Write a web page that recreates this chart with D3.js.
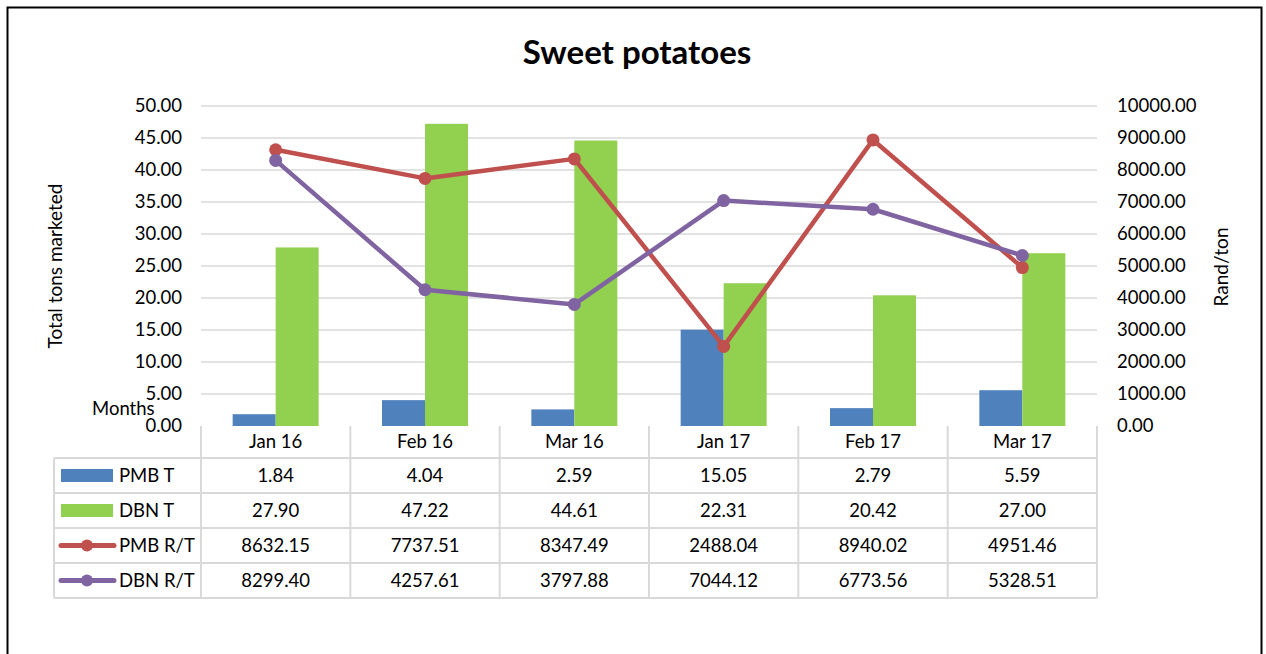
<!DOCTYPE html>
<html><head><meta charset="utf-8">
<script src="https://cdn.jsdelivr.net/npm/d3@7"></script>
<style>html,body{margin:0;padding:0;background:#fff;}svg{display:block;font-family:Lato,"Open Sans",sans-serif;}</style>
</head><body>
<svg id="chart" width="1266" height="654"></svg>
<script>
const categories = ["Jan 16","Feb 16","Mar 16","Jan 17","Feb 17","Mar 17"];
const pmbT = [1.84,4.04,2.59,15.05,2.79,5.59];
const dbnT = [27.90,47.22,44.61,22.31,20.42,27.00];
const pmbRT = [8632.15,7737.51,8347.49,2488.04,8940.02,4951.46];
const dbnRT = [8299.40,4257.61,3797.88,7044.12,6773.56,5328.51];
const leftTicks = [0,5,10,15,20,25,30,35,40,45,50];
const rightTicks = [0,1000,2000,3000,4000,5000,6000,7000,8000,9000,10000];
const title = "Sweet potatoes";

const seriesBars = [
  {name:"PMB T", values:pmbT, color:"#4f81bd"},
  {name:"DBN T", values:dbnT, color:"#92d050"}
];
const seriesLines = [
  {name:"PMB R/T", values:pmbRT, color:"#c0504d"},
  {name:"DBN R/T", values:dbnRT, color:"#8064a2"}
];

const svg = d3.select("#chart");
const X0 = 201, X1 = 1097, YT = 106, YB = 426;
const fs = 18.5;
const fa = 19;

svg.append("rect").attr("x",7.5).attr("y",7.5).attr("width",1254).attr("height",700)
  .attr("fill","none").attr("stroke","#000").attr("stroke-width",2);

svg.append("text").attr("x",637).attr("y",64).attr("text-anchor","middle")
  .attr("font-size",33).attr("font-weight","bold").attr("fill","#000").text(title);

const x = d3.scaleBand().domain(categories).range([X0,X1]).paddingInner(0).paddingOuter(0);
const yL = d3.scaleLinear().domain([0,50]).range([YB,YT]);
const yR = d3.scaleLinear().domain([0,10000]).range([YB,YT]);

// gridlines
svg.append("g").selectAll("line").data(leftTicks.filter(d=>d>0)).join("line")
  .attr("x1",X0).attr("x2",X1).attr("y1",d=>yL(d)).attr("y2",d=>yL(d))
  .attr("stroke","#d9d9d9").attr("stroke-width",1.5);

// left axis
const gl = svg.append("g").attr("transform",`translate(${X0},0)`)
  .call(d3.axisLeft(yL).tickValues(leftTicks).tickFormat(d3.format(".2f")).tickSize(0).tickPadding(19));
gl.select(".domain").remove();
gl.selectAll("text").attr("font-size",fs).attr("fill","#000").attr("font-family","Lato, sans-serif");

// right axis
const gr = svg.append("g").attr("transform",`translate(${X1},0)`)
  .call(d3.axisRight(yR).tickValues(rightTicks).tickFormat(d3.format(".2f")).tickSize(0).tickPadding(20));
gr.select(".domain").remove();
gr.selectAll("text").attr("font-size",fs).attr("fill","#000").attr("font-family","Lato, sans-serif");

// axis titles
svg.append("text").attr("transform","translate(62,266) rotate(-90)").attr("text-anchor","middle")
  .attr("font-size",fa).attr("fill","#000").text("Total tons marketed");
svg.append("text").attr("transform","translate(1228,267) rotate(-90)").attr("text-anchor","middle")
  .attr("font-size",fa).attr("fill","#000").text("Rand/ton");
svg.append("text").attr("x",92).attr("y",415).attr("font-size",fs).attr("fill","#000").text("Months");

// bars
const bw = 43;
seriesBars.forEach((s,si)=>{
  svg.append("g").selectAll("rect").data(s.values).join("rect")
    .attr("x",(d,i)=>x(categories[i])+x.bandwidth()/2 - bw + si*bw)
    .attr("width",bw)
    .attr("y",d=>yL(d)).attr("height",d=>YB-yL(d))
    .attr("fill",s.color);
});

// lines
const cx = i => x(categories[i])+x.bandwidth()/2;
seriesLines.forEach(s=>{
  const line = d3.line().x((d,i)=>cx(i)).y(d=>yR(d));
  svg.append("path").datum(s.values).attr("d",line).attr("fill","none")
    .attr("stroke",s.color).attr("stroke-width",4.5).attr("stroke-linejoin","round");
  svg.append("g").selectAll("circle").data(s.values).join("circle")
    .attr("cx",(d,i)=>cx(i)).attr("cy",d=>yR(d)).attr("r",6.5).attr("fill",s.color);
});

// data table
const gridC = "#d9d9d9";
const LX = 54, rowTop = 458, rowH = 35;
const allSeries = [...seriesBars.map(s=>({...s,type:"bar"})), ...seriesLines.map(s=>({...s,type:"line"}))];
const tb = svg.append("g");
const bounds = categories.map(c=>x(c)).concat([X1]);
tb.selectAll("line.hv").data(bounds).join("line")
  .attr("x1",d=>d).attr("x2",d=>d).attr("y1",YB).attr("y2",rowTop+rowH*allSeries.length)
  .attr("stroke",gridC).attr("stroke-width",2);
tb.append("line").attr("x1",LX).attr("x2",LX).attr("y1",rowTop).attr("y2",rowTop+rowH*allSeries.length)
  .attr("stroke",gridC).attr("stroke-width",2);
d3.range(allSeries.length+1).forEach(k=>{
  tb.append("line").attr("x1",LX).attr("x2",X1).attr("y1",rowTop+k*rowH).attr("y2",rowTop+k*rowH)
    .attr("stroke",gridC).attr("stroke-width",2);
});
tb.selectAll("text.h").data(categories).join("text")
  .attr("x",d=>x(d)+x.bandwidth()/2).attr("y",448).attr("text-anchor","middle")
  .attr("font-size",fs).attr("fill","#000").text(d=>d);
allSeries.forEach((s,k)=>{
  const cy = rowTop + k*rowH + rowH/2;
  if(s.type==="bar"){
    tb.append("rect").attr("x",61).attr("y",cy-6.5).attr("width",52).attr("height",13).attr("fill",s.color);
  } else {
    tb.append("line").attr("x1",61).attr("x2",114).attr("y1",cy).attr("y2",cy)
      .attr("stroke",s.color).attr("stroke-width",5).attr("stroke-linecap","round");
    tb.append("circle").attr("cx",87).attr("cy",cy).attr("r",6).attr("fill",s.color);
  }
  tb.append("text").attr("x",119).attr("y",cy+6.5).attr("font-size",fs).attr("fill","#000").text(s.name);
  tb.selectAll(null).data(s.values).join("text")
    .attr("x",(d,i)=>cx(i)).attr("y",cy+6.5).attr("text-anchor","middle")
    .attr("font-size",fs).attr("fill","#000").text(d=>d3.format(".2f")(d));
});
</script>
</body></html>
